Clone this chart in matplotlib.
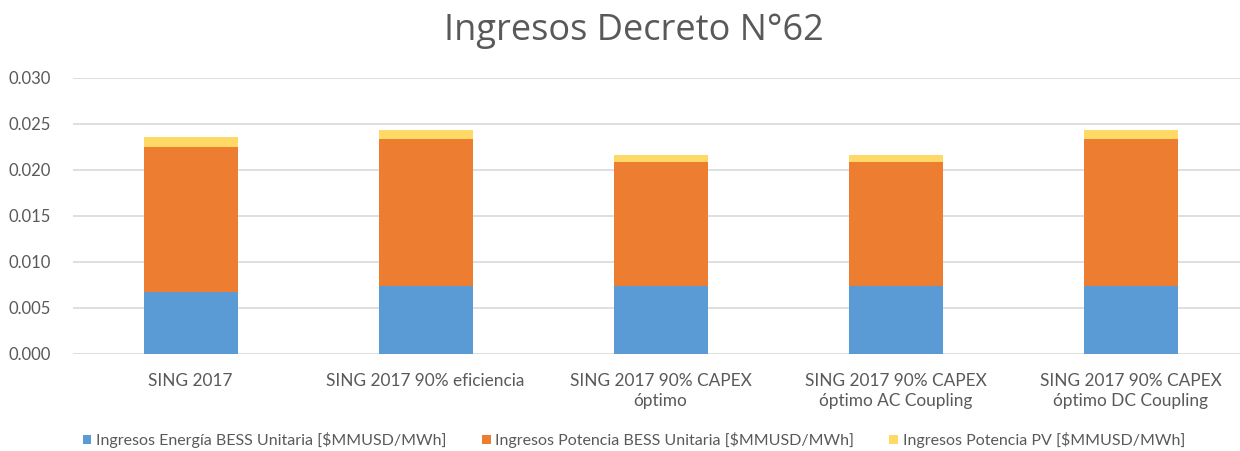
import matplotlib
matplotlib.use("Agg")
import matplotlib.pyplot as plt
import numpy as np

categories = ["SING 2017", "SING 2017 90% eficiencia", "SING 2017 90% CAPEX\nóptimo",
              "SING 2017 90% CAPEX\nóptimo AC Coupling", "SING 2017 90% CAPEX\nóptimo DC Coupling"]
energia_bess = [0.00672, 0.00742, 0.00743, 0.00743, 0.00742]
potencia_bess = [0.01580, 0.01597, 0.01346, 0.01346, 0.01597]
potencia_pv = [0.00105, 0.00091, 0.00073, 0.00073, 0.00091]
series_names = ["Ingresos Energía BESS Unitaria [$MMUSD/MWh]",
                "Ingresos Potencia BESS Unitaria [$MMUSD/MWh]",
                "Ingresos Potencia PV [$MMUSD/MWh]"]
yticks = [0.000, 0.005, 0.010, 0.015, 0.020, 0.025, 0.030]
title = "Ingresos Decreto N°62"

colors = ["#5B9BD5", "#ED7D31", "#FFD966"]
txt = "#595959"
W, H = 1240, 451
fig = plt.figure(figsize=(W / 100, H / 100), dpi=100)
ax = fig.add_axes([73 / W, 1 - 354 / H, 1175 / W, 276 / H])

x = np.arange(len(categories))
bottom = np.zeros(len(categories))
for vals, c, name in zip([energia_bess, potencia_bess, potencia_pv], colors, series_names):
    ax.bar(x, vals, width=0.40, bottom=bottom, color=c, label=name, zorder=3)
    bottom += np.array(vals)

ax.set_xlim(-0.5, len(categories) - 0.5)
ax.set_ylim(0, 0.030)
ax.set_yticks(yticks)
ax.set_yticklabels([f"{v:.3f}" for v in yticks])
ax.set_xticks(x)
ax.set_xticklabels(categories)
ax.grid(axis="y", color="#D9D9D9", linewidth=1.2, zorder=0)
for s in ax.spines.values():
    s.set_visible(False)
ax.tick_params(axis="both", length=0, colors=txt, labelsize=12)
ax.tick_params(axis="x", labelsize=12.4)
ax.tick_params(axis="y", pad=16)
ax.tick_params(axis="x", pad=14)
for lab in ax.get_xticklabels() + ax.get_yticklabels():
    lab.set_fontfamily("Lato")
    lab.set_linespacing(1.3)

fig.text(634 / W, 1 - 31 / H, title, ha="center", va="center", fontsize=26,
         color=txt, fontfamily="Open Sans")

leg = fig.legend(loc="center", bbox_to_anchor=(634 / W, 1 - 440 / H), ncol=3, frameon=False,
                 prop={"family": "Lato", "size": 11.5}, handlelength=0.55, handleheight=0.55,
                 handletextpad=0.3, columnspacing=2.2, labelcolor=txt)

fig.savefig("out.png", dpi=100, facecolor="white")
